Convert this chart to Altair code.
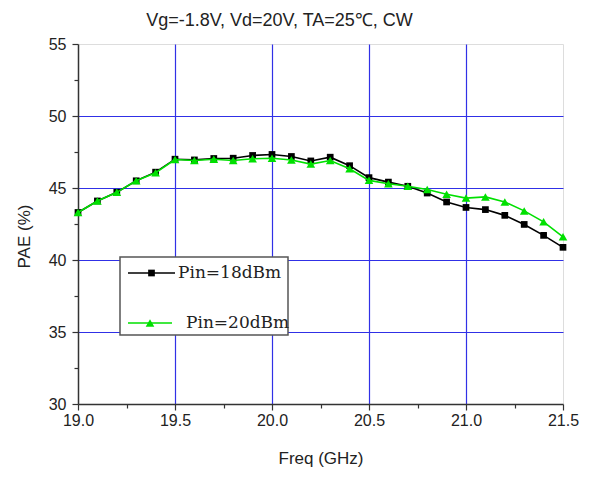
import altair as alt
import pandas as pd

freq = [19.0, 19.1, 19.2, 19.3, 19.4, 19.5, 19.6, 19.7, 19.8, 19.9, 20.0, 20.1, 20.2,
        20.3, 20.4, 20.5, 20.6, 20.7, 20.8, 20.9, 21.0, 21.1, 21.2, 21.3, 21.4, 21.5]
pin18 = [43.3, 44.1, 44.7, 45.5, 46.1, 47.0, 46.95, 47.05, 47.07, 47.26, 47.33, 47.19, 46.88,
         47.14, 46.55, 45.72, 45.41, 45.12, 44.65, 44.03, 43.65, 43.5, 43.1, 42.47, 41.71, 40.88]
pin20 = [43.3, 44.1, 44.7, 45.5, 46.06, 46.98, 46.91, 47.0, 46.91, 47.03, 47.07, 46.95, 46.66,
         46.91, 46.34, 45.53, 45.3, 45.12, 44.9, 44.56, 44.3, 44.38, 44.03, 43.41, 42.65, 41.61]
series_names = ["Pin=18dBm", "Pin=20dBm"]
series_colors = ["#000000", "#00e000"]
x_ticks = [19.0, 19.25, 19.5, 19.75, 20.0, 20.25, 20.5, 20.75, 21.0, 21.25, 21.5]
y_ticks = [30, 32.5, 35, 37.5, 40, 42.5, 45, 47.5, 50, 52.5, 55]
title_text = "Vg=-1.8V, Vd=20V, TA=25\u2103, CW"

df = pd.DataFrame({
    "freq": freq * 2,
    "pae": pin18 + pin20,
    "series": [series_names[0]] * len(freq) + [series_names[1]] * len(freq),
})

W, H = 485, 360
GRID = "#3030e6"
AX = "#333333"

x_major = "abs(datum.value*2 - round(datum.value*2)) < 0.001"
y_major = "abs(datum.value % 5) < 0.001"

xenc = alt.X("freq:Q", scale=alt.Scale(domain=[19.0, 21.5], nice=False, zero=False),
             axis=alt.Axis(values=x_ticks, title="Freq (GHz)",
                           labelExpr=f"{x_major} ? format(datum.value, '.1f') : ''",
                           grid=True, gridColor=GRID, gridWidth=1.2,
                           gridOpacity={"condition": {"test": f"{x_major} && datum.value > 19.01 && datum.value < 21.49", "value": 1}, "value": 0},
                           tickSize={"condition": {"test": x_major, "value": 6}, "value": 4},
                           tickColor=AX, tickWidth=1.2, domainColor=AX, domainWidth=1.5,
                           labelFont="Liberation Sans", labelFontSize=16, labelColor="#222",
                           labelPadding=2, labelFlush=False,
                           titleFont="Liberation Sans", titleFontSize=17, titleFontWeight="normal",
                           titleColor="#222", titlePadding=22))
yenc = alt.Y("pae:Q", scale=alt.Scale(domain=[30, 55], nice=False, zero=False),
             axis=alt.Axis(values=y_ticks, title="PAE (%)",
                           labelExpr=f"{y_major} ? format(datum.value, 'd') : ''",
                           grid=True, gridColor=GRID, gridWidth=1.2,
                           gridOpacity={"condition": {"test": f"{y_major} && datum.value > 30.5 && datum.value < 54.5", "value": 1}, "value": 0},
                           tickSize={"condition": {"test": y_major, "value": 6}, "value": 4},
                           tickColor=AX, tickWidth=1.2, domainColor=AX, domainWidth=1.5,
                           labelFont="Liberation Sans", labelFontSize=16, labelColor="#222",
                           labelPadding=6, labelFlush=False,
                           titleFont="Liberation Sans", titleFontSize=17, titleFontWeight="normal",
                           titleColor="#222", titleX=-54, titleY=192, titleAngle=-90,
                           titleAlign="center", titleBaseline="middle"))

base = alt.Chart(df)
layers = []
shapes = ["square", "triangle-up"]
sizes = [45, 75]
for name, col, shp, sz in zip(series_names, series_colors, shapes, sizes):
    sub = base.transform_filter(alt.datum.series == name)
    layers.append(sub.mark_line(color=col, strokeWidth=1.6).encode(x=xenc, y=yenc))
    layers.append(sub.mark_point(color=col, shape=shp, filled=True, size=sz, opacity=1).encode(x=xenc, y=yenc))

# legend box (drawn inside plot area)
leg = alt.Chart(pd.DataFrame({"a": [0]}))
box = leg.mark_rect(fill="white", stroke="#555555", strokeWidth=1.5).encode(
    x=alt.value(42), x2=alt.value(210), y=alt.value(213), y2=alt.value(291))
layers.append(box)
entry_y = [229, 279]
text_x = [100, 108]
line_x2 = [97, 94]
for name, col, shp, sz, ey, tx, lx2 in zip(series_names, series_colors, shapes, sizes, entry_y, text_x, line_x2):
    layers.append(leg.mark_rule(color=col, strokeWidth=1.6).encode(
        x=alt.value(50), x2=alt.value(lx2), y=alt.value(ey)))
    layers.append(leg.mark_point(color=col, shape=shp, filled=True, size=sz, opacity=1).encode(
        x=alt.value((50 + lx2) / 2), y=alt.value(ey)))
    layers.append(leg.mark_text(align="left", baseline="middle", font="DejaVu Serif",
                                fontSize=17, color="#222").encode(
        x=alt.value(tx), y=alt.value(ey), text=alt.value(name)))

chart = alt.layer(*layers).properties(
    width=W, height=H,
    title=alt.TitleParams(title_text, font="Liberation Sans", fontSize=18, fontWeight="normal",
                          color="#222", anchor="middle", dx=-41, offset=6),
    autosize="none",
    padding={"left": 70, "top": 36, "right": 20, "bottom": 64},
).configure_view(stroke="#555555", strokeWidth=1.5).configure(background="white")

chart.save("out.html", embed_options={"renderer": "svg", "actions": False})
